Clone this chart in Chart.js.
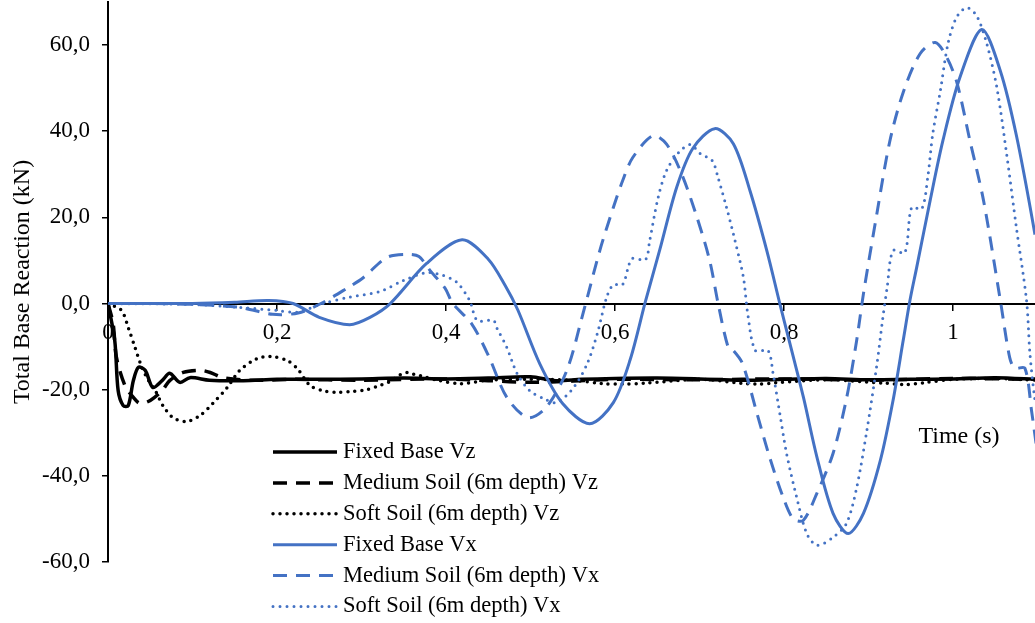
<!DOCTYPE html>
<html>
<head>
<meta charset="utf-8">
<script src="https://cdn.jsdelivr.net/npm/chart.js@4.4.0/dist/chart.umd.min.js"></script>
<style>
  html, body { margin: 0; padding: 0; background: #fff; }
  #wrap { width: 1035px; height: 623px; }
</style>
</head>
<body>
<div id="wrap"><canvas id="chart" width="1035" height="623"></canvas></div>
<script>
// ── Data (time in s, reaction in kN) ─────────────────────────

const xTicks = [0, 0.2, 0.4, 0.6, 0.8, 1];
const yTicks = [-60, -40, -20, 0, 20, 40, 60];

const fixedVzT = [0, 0.008, 0.012, 0.018, 0.024, 0.030, 0.036, 0.044, 0.053, 0.064, 0.073, 0.085, 0.097, 0.12, 0.16, 0.2, 0.25, 0.3, 0.35, 0.4, 0.45, 0.5, 0.53, 0.56, 0.6, 0.65, 0.7, 0.75, 0.8, 0.85, 0.9, 0.95, 1.0, 1.05, 1.1];
const fixedVzV = [0, -8.6, -20.2, -23.7, -23.7, -17.9, -14.8, -15.5, -19.5, -17.9, -16.2, -18.3, -17.2, -17.8, -17.9, -17.6, -17.6, -17.5, -17.3, -17.5, -17.3, -17.0, -17.9, -17.6, -17.4, -17.3, -17.5, -17.8, -17.6, -17.4, -17.7, -17.6, -17.5, -17.2, -17.6];

const mediumVzT = [0, 0.006, 0.010, 0.020, 0.030, 0.038, 0.050, 0.064, 0.073, 0.089, 0.109, 0.121, 0.136, 0.17, 0.22, 0.3, 0.4, 0.45, 0.5, 0.55, 0.6, 0.7, 0.8, 0.9, 1.0, 1.1];
const mediumVzV = [0, -4.6, -12.5, -19, -21.8, -23.2, -22.5, -20.2, -17.9, -16, -15.5, -16, -17.2, -17.8, -17.6, -17.8, -17.5, -17.9, -18.3, -18.0, -17.6, -17.7, -17.5, -17.8, -17.4, -17.6];

const softVzT = [0, 0.016, 0.024, 0.032, 0.040, 0.048, 0.056, 0.065, 0.077, 0.093, 0.109, 0.124, 0.141, 0.156, 0.176, 0.192, 0.212, 0.224, 0.239, 0.254, 0.271, 0.290, 0.306, 0.322, 0.332, 0.346, 0.355, 0.363, 0.373, 0.39, 0.417, 0.45, 0.5, 0.55, 0.585, 0.61, 0.635, 0.7, 0.75, 0.77, 0.79, 0.85, 0.92, 0.945, 0.965, 1.0, 1.05, 1.1];
const softVzV = [0, -1.6, -5.6, -10.2, -14.8, -17.9, -20.2, -23.7, -26.5, -27.4, -26, -23.2, -19.5, -15.5, -12.8, -12.3, -13.2, -15.1, -19, -20.2, -20.6, -20.4, -20, -19, -18.3, -16.5, -16, -16.5, -16.9, -17.8, -18.6, -17.8, -17.6, -17.8, -18.6, -18.7, -18.5, -17.6, -18.5, -18.7, -18.4, -17.7, -18.5, -18.8, -18.4, -17.6, -17.4, -17.8];

const fixedVxT = [0, 0.05, 0.10, 0.15, 0.19, 0.219, 0.25, 0.286, 0.31, 0.334, 0.377, 0.419, 0.450, 0.470, 0.485, 0.511, 0.538, 0.570, 0.598, 0.618, 0.636, 0.653, 0.673, 0.692, 0.718, 0.740, 0.760, 0.780, 0.795, 0.807, 0.823, 0.839, 0.858, 0.876, 0.894, 0.914, 0.929, 0.941, 0.949, 0.957, 0.973, 0.988, 1.008, 1.034, 1.056, 1.075, 1.097, 1.11];
const fixedVxV = [0, 0, 0, 0.3, 0.7, 0, -3.2, -4.9, -3.2, 0, 9.3, 14.8, 10.3, 4.2, -1.5, -14, -23.2, -27.9, -23, -13, 0.5, 12.5, 27, 36, 40.6, 37.1, 26, 12, 0, -9.3, -21.8, -35.7, -48.7, -53.4, -48.7, -36.4, -22.5, -8.6, 0.7, 8.4, 24, 37.8, 52.4, 63.6, 54, 39, 16, 0];

const mediumVxT = [0, 0.05, 0.10, 0.156, 0.195, 0.225, 0.252, 0.284, 0.302, 0.330, 0.354, 0.368, 0.381, 0.399, 0.408, 0.430, 0.450, 0.472, 0.497, 0.519, 0.543, 0.562, 0.582, 0.598, 0.609, 0.621, 0.645, 0.661, 0.679, 0.697, 0.712, 0.722, 0.734, 0.740, 0.751, 0.768, 0.783, 0.799, 0.811, 0.823, 0.839, 0.858, 0.874, 0.886, 0.894, 0.910, 0.925, 0.941, 0.961, 0.979, 0.993, 1.005, 1.020, 1.036, 1.056, 1.067, 1.073, 1.085, 1.093, 1.1];
const mediumVxV = [0, 0, -0.2, -0.9, -2.5, -2.2, 0, 3.7, 6, 10.7, 11.4, 10.9, 7.7, 3.5, 0, -4.6, -12, -21.8, -26.5, -24, -15.5, -2.4, 12.3, 22.3, 28.5, 33.9, 39, 37, 30, 20, 10, 0, -10.2, -10.9, -14, -25.5, -35.7, -45, -50, -50.3, -44, -34.8, -22, -8.5, 2.3, 21, 37.5, 49, 58, 60.6, 57, 51, 37.8, 24, 0.7, -12.5, -15, -15, -25, -35];

const softVxT = [0, 0.1, 0.156, 0.2, 0.224, 0.254, 0.286, 0.322, 0.349, 0.377, 0.397, 0.413, 0.428, 0.437, 0.456, 0.460, 0.472, 0.484, 0.499, 0.515, 0.531, 0.551, 0.567, 0.579, 0.590, 0.598, 0.609, 0.620, 0.636, 0.641, 0.651, 0.661, 0.675, 0.689, 0.701, 0.715, 0.722, 0.732, 0.742, 0.752, 0.757, 0.766, 0.781, 0.787, 0.795, 0.803, 0.815, 0.827, 0.839, 0.858, 0.874, 0.886, 0.898, 0.910, 0.917, 0.922, 0.929, 0.943, 0.951, 0.963, 0.970, 0.976, 0.985, 0.994, 1.004, 1.016, 1.028, 1.040, 1.052, 1.064, 1.075, 1.087, 1.091, 1.097, 1.105];
const softVxV = [0, -0.2, -0.9, -1.6, -2, 0, 1.5, 2.8, 5.3, 7.2, 6.5, 4.9, 0.7, -3.9, -3.9, -5.6, -10.2, -16.2, -20.2, -22, -23, -19.5, -14, -7, 1.4, 4.4, 4.4, 10.4, 10.2, 14.6, 24.6, 30.9, 35, 36.9, 34.8, 33.2, 29.2, 22.3, 14.6, 6, -2.3, -10.9, -10.9, -16.2, -25.5, -34.8, -45, -53.4, -56.1, -54.3, -51, -42.7, -29.5, -14, -3.2, 3.7, 12.3, 11.8, 22.3, 22, 29.2, 39.4, 49.4, 60.3, 66.4, 68.7, 66.8, 60.3, 50, 33.9, 17.6, 0.7, -11.6, -22.5, -32];

// ── Styles ───────────────────────────────────────────────────

const BLUE  = '#4472C4';
const BLACK = '#000000';
const FONT  = '"Liberation Serif", "Times New Roman", serif';

const SOLID  = [];
const DASHED = [14, 9];
const DOTTED = [0, 7];

function series(label, t, v, color, dash, order) {
  return {
    label,
    data: t.map((x, i) => ({ x, y: v[i] })),
    borderColor: color,
    borderWidth: color === BLACK ? 3.5 : 3,
    borderDash: dash,
    borderCapStyle: dash === DOTTED ? 'round' : 'butt',
    borderJoinStyle: 'round',
    pointRadius: 0,
    tension: 0.3,
    fill: false,
    order,
  };
}

// Legend + x title drawn inside the plot area
const insideLegend = {
  id: 'insideLegend',
  afterDraw(chart) {
    const ctx = chart.ctx;
    ctx.save();
    ctx.font = `22.5px ${FONT}`;
    ctx.textBaseline = 'middle';
    ctx.textAlign = 'left';
    ctx.fillStyle = '#000';
    chart.data.datasets.forEach((ds, i) => {
      const y = 452 + i * 30.9;
      ctx.beginPath();
      ctx.strokeStyle = ds.borderColor;
      ctx.lineWidth = ds.borderWidth;
      ctx.setLineDash(ds.borderDash);
      ctx.lineCap = ds.borderCapStyle;
      ctx.moveTo(273, y);
      ctx.lineTo(337, y);
      ctx.stroke();
      ctx.setLineDash([]);
      ctx.fillText(ds.label, 343, y);
    });
    ctx.font = `24px ${FONT}`;
    ctx.textAlign = 'center';
    ctx.fillText('Time (s)', 959, 437);
    ctx.restore();
  },
};

const fmt = v => String(v).replace('.', ',');

new Chart(document.getElementById('chart'), {
  type: 'line',
  data: {
    datasets: [
      series('Fixed Base Vz',                fixedVzT,  fixedVzV,  BLACK, SOLID,  6),
      series('Medium Soil (6m depth) Vz',    mediumVzT, mediumVzV, BLACK, DASHED, 5),
      series('Soft Soil (6m depth) Vz',      softVzT,   softVzV,   BLACK, DOTTED, 4),
      series('Fixed Base Vx',                fixedVxT,  fixedVxV,  BLUE,  SOLID,  3),
      series('Medium Soil (6m depth) Vx',    mediumVxT, mediumVxV, BLUE,  DASHED, 2),
      series('Soft Soil (6m depth) Vx',      softVxT,   softVxV,   BLUE,  DOTTED, 1),
    ],
  },
  options: {
    responsive: false,
    animation: false,
    layout: { padding: { top: 2, right: 0, bottom: 61, left: 0 } },
    plugins: { legend: { display: false }, tooltip: { enabled: false } },
    scales: {
      x: {
        type: 'linear',
        position: { y: 0 },
        min: 0,
        max: 1.097,
        afterBuildTicks: s => { s.ticks = xTicks.map(value => ({ value })); },
        border: { display: true, color: '#000', width: 2 },
        grid: { display: true, drawOnChartArea: false, drawTicks: true, tickLength: 6, color: '#000', lineWidth: 1.5 },
        ticks: { color: '#000', padding: 10, maxRotation: 0, autoSkip: false, font: { family: FONT, size: 23 }, callback: v => fmt(v) },
      },
      y: {
        type: 'linear',
        position: 'left',
        min: -60,
        max: 70,
        afterBuildTicks: s => { s.ticks = yTicks.map(value => ({ value })); },
        afterFit: s => { s.width = 108; s.paddingTop = 0; s.paddingBottom = 0; },
        border: { display: true, color: '#000', width: 2 },
        grid: { display: true, drawOnChartArea: false, drawTicks: true, tickLength: 6, color: '#000', lineWidth: 1.5 },
        ticks: { color: '#000', padding: 12, autoSkip: false, font: { family: FONT, size: 23 }, callback: v => fmt(v.toFixed(1)) },
        title: { display: true, text: 'Total Base Reaction (kN)', color: '#000', padding: { top: 8, bottom: 0 }, font: { family: FONT, size: 24 } },
      },
    },
  },
  plugins: [insideLegend],
});
</script>
</body>
</html>
